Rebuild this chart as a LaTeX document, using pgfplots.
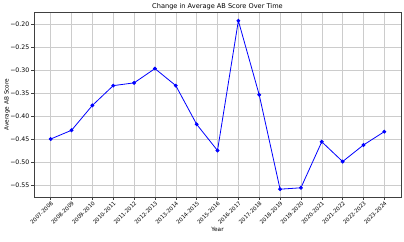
\documentclass[border=0pt]{standalone}
\usepackage{pgfplots}
\pgfplotsset{compat=1.18}
\usepackage{fontspec}
\setmainfont{DejaVu Sans}
\begin{document}
\begin{tikzpicture}
\begin{axis}[
  name=ax,
  scale only axis,
  width=367pt, height=185pt,
  xmin=-0.8, xmax=16.8,
  ymin=-0.576, ymax=-0.174,
  xtick={0,...,16},
  xticklabels={2007-2008,2008-2009,2009-2010,2010-2011,2011-2012,2012-2013,2013-2014,2014-2015,2015-2016,2016-2017,2017-2018,2018-2019,2019-2020,2020-2021,2021-2022,2022-2023,2023-2024},
  x tick label style={rotate=45, anchor=north east, font=\fontsize{5.4}{6}\selectfont, inner sep=1pt},
  ytick={-0.55,-0.50,-0.45,-0.40,-0.35,-0.30,-0.25,-0.20},
  yticklabels={−0.55,−0.50,−0.45,−0.40,−0.35,−0.30,−0.25,−0.20},
  y tick label style={font=\fontsize{6.2}{7}\selectfont, inner sep=2pt},
  tick align=outside,
  major tick length=2.5pt,
  tick style={black!75, line width=0.5pt},
  xtick pos=bottom, ytick pos=left,
  grid=major,
  grid style={gray!40, line width=0.5pt},
  axis line style={black!75, line width=0.8pt},
  title={Change in Average AB Score Over Time},
  title style={font=\fontsize{6.6}{7}\selectfont, yshift=-7pt},
  xlabel={Year},
  ylabel={Average AB Score},
  xlabel style={font=\fontsize{5.8}{6}\selectfont, yshift=3pt},
  ylabel style={font=\fontsize{5.8}{6}\selectfont, yshift=-5pt},
]
\addplot[blue, line width=0.8pt, mark=*, mark size=1.5pt, mark options={fill=blue, draw=blue}] coordinates {
(0,-0.450) (1,-0.431) (2,-0.377) (3,-0.334) (4,-0.328) (5,-0.297) (6,-0.334) (7,-0.418) (8,-0.475) (9,-0.193) (10,-0.354) (11,-0.559) (12,-0.556) (13,-0.456) (14,-0.499) (15,-0.463) (16,-0.434)
};
\end{axis}
\pgfresetboundingbox
\path ([xshift=-34pt,yshift=-44pt]ax.south west) rectangle ([xshift=3pt,yshift=12pt]ax.north east);
\end{tikzpicture}
\end{document}
